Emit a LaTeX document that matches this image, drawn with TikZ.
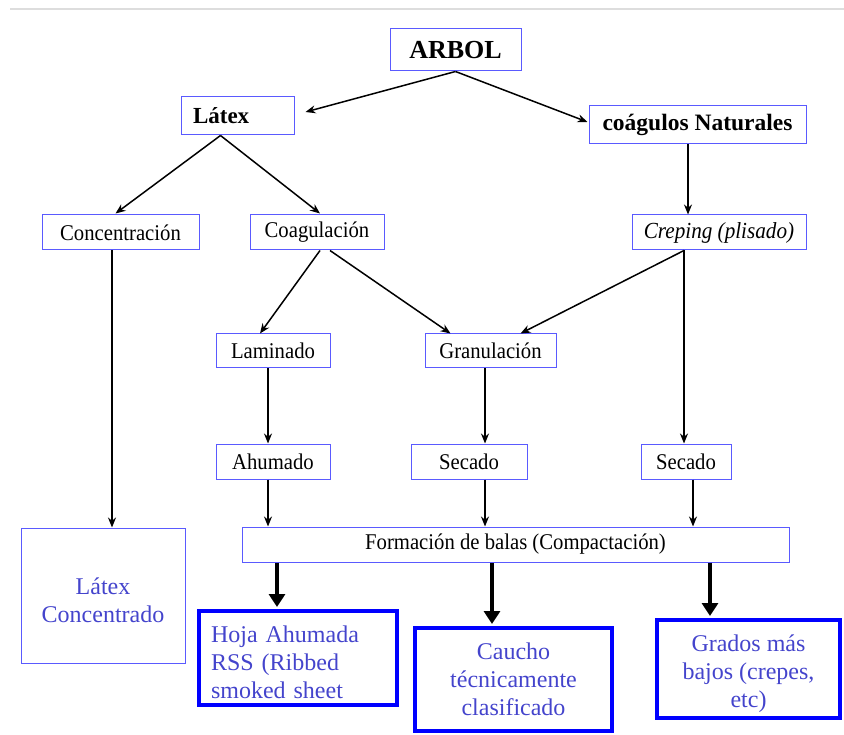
\documentclass[tikz,border=0pt]{standalone}
\usepackage{fontspec}
\setmainfont{Liberation Serif}
\newfontfamily\tallserif[FakeStretch=0.92]{Liberation Serif}
\usetikzlibrary{arrows.meta,calc}
\definecolor{boxblue}{HTML}{5A5AFF}
\definecolor{thickblue}{HTML}{0000FF}
\definecolor{txtblue}{HTML}{4444CC}
\definecolor{rulegray}{HTML}{DDDDDD}
\newcommand{\topstrut}[1]{\rule{0pt}{#1pt}}
\tikzset{
  box/.style={draw=boxblue,line width=1pt,inner sep=0pt,align=center,font=\tallserif\fontsize{22.5}{26}\selectfont},
  bigbox/.style={draw=thickblue,line width=4pt,inner sep=0pt,align=center,text=txtblue,font=\fontsize{24}{28}\selectfont},
  conbox/.style={draw=boxblue,line width=1pt,inner sep=0pt,align=center,text=txtblue,font=\fontsize{24}{28}\selectfont},
  arr/.style={draw=black,line width=1.5pt,-{Stealth[length=10pt,width=8pt]}},
  thickarr/.style={draw=black,line width=4.5pt,-{Triangle[length=13pt,width=16pt]}}
}
\begin{document}
\begin{tikzpicture}[x=1pt,y=-1pt]
\useasboundingbox (0,0) rectangle (844,735);
\coordinate (ruleL) at (10,9);
\coordinate (ruleR) at (844,9);
\draw[rulegray,line width=1.5pt] (ruleL) -- (ruleR);

\node[box,minimum width=131pt,minimum height=42pt,font=\fontsize{26}{30}\selectfont\bfseries] (arbol) at (455.5,50) {ARBOL};
\node[box,minimum height=38pt,inner xsep=12pt,text width=89pt,align=left,font=\fontsize{23}{27}\selectfont\bfseries] (latex) at (237.5,116) {Látex};
\node[box,minimum width=217pt,minimum height=38pt,font=\fontsize{23.5}{27}\selectfont\bfseries] (coag) at (697.5,125) {coágulos Naturales};

\node[box,minimum width=157pt,minimum height=35pt] (conc) at (120.5,232.5) {Concentración};
\node[box,minimum width=134pt,minimum height=35pt] (coagul) at (317,232.5) {Coagulación};
\node[box,minimum width=174pt,minimum height=35pt,font=\tallserif\fontsize{23}{26}\selectfont\itshape] (creping) at (719,232.5) {Creping (plisado)};

\node[box,minimum width=114pt,minimum height=34pt] (lamin) at (273,351) {Laminado};
\node[box,minimum width=131pt,minimum height=34pt] (granul) at (490.5,351) {Granulación};

\node[box,minimum width=114pt,minimum height=35pt] (ahum) at (273,461.5) {Ahumado};
\node[box,minimum width=116pt,minimum height=35pt] (sec1) at (469,461.5) {Secado};
\node[box,minimum width=90pt,minimum height=35pt] (sec2) at (686,461.5) {Secado};

\node[box,minimum width=547pt,minimum height=35pt] (form) at (515.5,544.5) {Formación de balas (Compactación)};

\node[conbox,minimum width=164pt,minimum height=135pt] (latconc) at (103,595.5) {\topstrut{27}Látex\\Concentrado};
\node[bigbox,minimum height=94pt,inner xsep=12pt,text width=174pt,align=left] (hoja) at (298,658) {\topstrut{25}Hoja Ahumada\\RSS (Ribbed\\smoked sheet};
\node[bigbox,minimum width=197pt,minimum height=103pt] (caucho) at (513.5,679.5) {Caucho\\técnicamente\\clasificado};
\node[bigbox,minimum width=183pt,minimum height=98pt] (grados) at (748.5,669) {\topstrut{27}Grados más\\bajos (crepes,\\etc)};

\draw[arr] (arbol.south) -- ($(latex.east)+(11,-4)$);
\draw[arr] (arbol.south) -- ($(coag.west)+(-1,-3)$);
\draw[arr] ($(latex.south)+(-17,0)$) -- ($(conc.north)+(-5,-1)$);
\draw[arr] ($(latex.south)+(-17,0)$) -- ($(coagul.north)+(3,-1)$);
\draw[arr] ($(coag.south)+(-9.5,0)$) -- ($(creping.north)+(-31,0)$);
\draw[arr] ($(coagul.south)+(3,0)$) -- ($(lamin.north)+(-13,0)$);
\draw[arr] ($(coagul.south)+(13,0)$) -- ($(granul.north)+(-40,0)$);
\draw[arr] ($(creping.south)+(-35,0)$) -- ($(granul.north)+(30,0)$);
\draw[arr] ($(creping.south)+(-35,0)$) -- ($(sec2.north)+(-2,0)$);
\draw[arr] ($(conc.south)+(-8.5,0)$) -- ($(latconc.north)+(9,0)$);
\draw[arr] ($(lamin.south)+(-5,0)$) -- ($(ahum.north)+(-5,0)$);
\draw[arr] ($(granul.south)+(-5.5,0)$) -- ($(sec1.north)+(16,0)$);
\draw[arr] ($(ahum.south)+(-5,0)$) -- ($(form.north)+(-247.5,0)$);
\draw[arr] ($(sec1.south)+(16,0)$) -- ($(form.north)+(-30.5,0)$);
\draw[arr] ($(sec2.south)+(7,0)$) -- ($(form.north)+(177.5,0)$);
\draw[thickarr] ($(form.south)+(-238.5,0)$) -- ($(hoja.north)+(-21,-2)$);
\draw[thickarr] ($(form.south)+(-23.5,0)$) -- ($(caucho.north)+(-21.5,-2)$);
\draw[thickarr] ($(form.south)+(194.5,0)$) -- ($(grados.north)+(-38.5,-2)$);
\end{tikzpicture}
\end{document}
